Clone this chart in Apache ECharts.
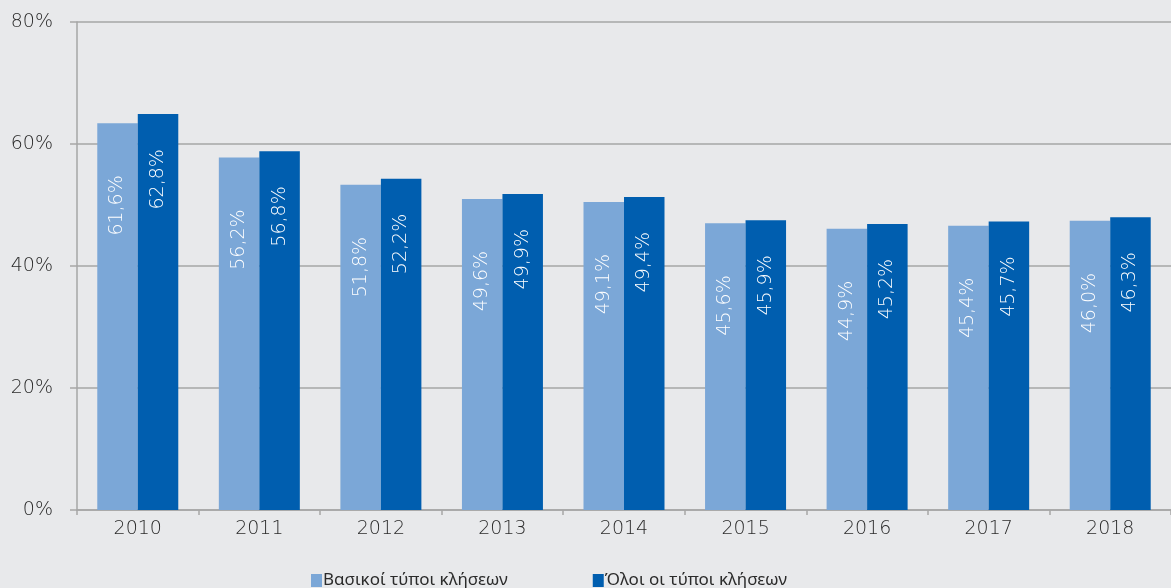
<!DOCTYPE html>
<html>
<head>
<meta charset="utf-8">
<script src="https://cdn.jsdelivr.net/npm/echarts@6/dist/echarts.min.js"></script>
<style>
  html, body { margin: 0; padding: 0; background: #e8e9eb; }
  #main { width: 1171px; height: 588px; }
</style>
</head>
<body>
<div id="main"></div>
<script>
// categories and values
var years = ['2010', '2011', '2012', '2013', '2014', '2015', '2016', '2017', '2018'];
var seriesNames = ['Βασικοί τύποι κλήσεων', 'Όλοι οι τύποι κλήσεων'];
// bar heights as drawn in the picture
var basicValues = [63.4, 57.8, 53.3, 51.0, 50.5, 47.0, 46.1, 46.6, 47.4];
var allValues = [64.9, 58.8, 54.3, 51.8, 51.3, 47.5, 46.9, 47.3, 48.0];
// labels printed on the bars
var basicLabels = ['61,6%', '56,2%', '51,8%', '49,6%', '49,1%', '45,6%', '44,9%', '45,4%', '46,0%'];
var allLabels = ['62,8%', '56,8%', '52,2%', '49,9%', '49,4%', '45,9%', '45,2%', '45,7%', '46,3%'];
var yTicks = [0, 20, 40, 60, 80];

var NUM_FONT = '"DejaVu Sans", sans-serif';
var TEXT_FONT = '"Noto Sans", "DejaVu Sans", sans-serif';

var myChart = echarts.init(document.getElementById('main'));

function barLabel(texts, dist) {
    return {
        show: true,
        position: 'insideTop',
        distance: dist,
        rotate: 90,
        align: 'right',
        verticalAlign: 'middle',
        color: '#ffffff',
        fontFamily: NUM_FONT,
        fontWeight: 200,
        fontSize: 19,
        formatter: function (p) { return texts[p.dataIndex]; }
    };
}

var option = {
    backgroundColor: '#e8e9eb',
    animation: false,
    grid: { left: 77, right: 0, top: 22, bottom: 78 },
    legend: {
        left: 306,
        top: 567,
        itemWidth: 11,
        itemHeight: 13,
        itemGap: 85,
        icon: 'rect',
        textStyle: { fontFamily: TEXT_FONT, fontSize: 17, color: '#2b2b2b', padding: [0, 0, 0, -4] },
        data: seriesNames
    },
    xAxis: {
        type: 'category',
        data: years,
        axisLine: { lineStyle: { color: '#a6a6a6', width: 1.5 } },
        axisTick: { show: true, length: 5, lineStyle: { color: '#a6a6a6', width: 1.5 } },
        axisLabel: { fontFamily: NUM_FONT, fontWeight: 200, fontSize: 19, color: '#2b2b2b', margin: 10 }
    },
    yAxis: {
        type: 'value',
        min: yTicks[0],
        max: yTicks[yTicks.length - 1],
        interval: 20,
        axisLine: { show: true, lineStyle: { color: '#a6a6a6', width: 1.5 } },
        axisTick: { show: true, length: 7, lineStyle: { color: '#a6a6a6', width: 1.5 } },
        splitLine: { lineStyle: { color: '#a6a6a6', width: 1.5 } },
        axisLabel: { fontFamily: NUM_FONT, fontWeight: 200, fontSize: 19, color: '#2b2b2b', margin: 24, formatter: '{value}%' }
    },
    series: [
        {
            name: seriesNames[0],
            type: 'bar',
            data: basicValues,
            barWidth: 40.5,
            barGap: '0%',
            itemStyle: { color: '#7ba7d7' },
            label: barLabel(basicLabels, 52)
        },
        {
            name: seriesNames[1],
            type: 'bar',
            data: allValues,
            barWidth: 40.5,
            barGap: '0%',
            itemStyle: { color: '#005eaf' },
            label: barLabel(allLabels, 35)
        }
    ]
};

myChart.setOption(option);
</script>
</body>
</html>
